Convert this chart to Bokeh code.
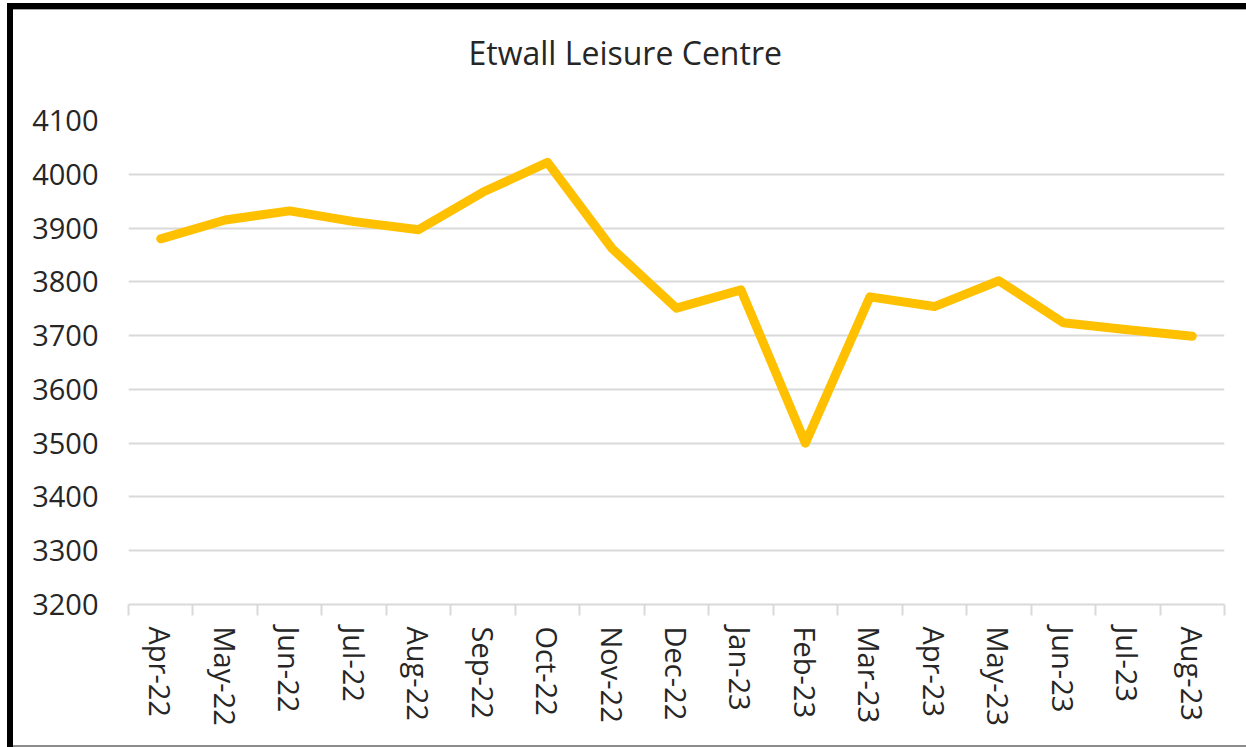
from bokeh.plotting import figure
from bokeh.models import ColumnDataSource, FixedTicker, Range1d, Title
from bokeh.embed import file_html
from bokeh.resources import INLINE

months = ["Apr-22", "May-22", "Jun-22", "Jul-22", "Aug-22", "Sep-22", "Oct-22",
          "Nov-22", "Dec-22", "Jan-23", "Feb-23", "Mar-23", "Apr-23", "May-23",
          "Jun-23", "Jul-23", "Aug-23"]
visits = [3880, 3915, 3932, 3912, 3897, 3967, 4022, 3862, 3751, 3785, 3500,
          3772, 3754, 3802, 3724, 3711, 3699]
y_ticks = [3200, 3300, 3400, 3500, 3600, 3700, 3800, 3900, 4000, 4100]
title_text = "Etwall Leisure Centre"

FONT = "Open Sans"
TXT = "#262626"
GRID = "#d9d9d9"

n = len(months)
idx = list(range(n))
src = ColumnDataSource(dict(x=idx, y=visits, m=months))

p = figure(width=1246, height=747, output_backend="svg", toolbar_location=None,
           x_range=Range1d(-0.5, n - 0.5), y_range=Range1d(y_ticks[0], y_ticks[-1]),
           min_border_left=128, min_border_right=22, min_border_top=120,
           min_border_bottom=143)

p.line("x", "y", source=src, line_color="#FFC000", line_width=9,
       line_cap="round", line_join="round")

# Spacer between the frame and the title, then the title itself
p.add_layout(Title(text=" ", text_font_size="1px", standoff=44), "above")
p.add_layout(Title(text=title_text, text_font=FONT, text_font_size="32px",
                   text_font_style="normal", text_color=TXT, align="left",
                   offset=340, standoff=0), "above")

# Frame / background
p.outline_line_color = None
p.background_fill_color = "white"
p.border_fill_color = None
p.styles = {"box-shadow": ("inset 7px 3px 0 0 #ffffff, inset 13px 9px 0 0 #000000, "
                           "inset 0 10px 0 0 #a6a6a6, inset 0 -2px 0 0 #8c8c8c")}

# Y axis
p.yaxis.ticker = FixedTicker(ticks=y_ticks)
p.yaxis.axis_line_color = None
p.yaxis.major_tick_line_color = None
p.yaxis.minor_tick_line_color = None
p.yaxis.major_tick_out = 0
p.yaxis.major_tick_in = 0
p.yaxis.major_label_standoff = 30
p.yaxis.major_label_text_font = FONT
p.yaxis.major_label_text_font_size = "29px"
p.yaxis.major_label_text_color = TXT

# X axis: labels at centres, ticks at category boundaries
p.xaxis.ticker = FixedTicker(ticks=idx, minor_ticks=[i - 0.5 for i in range(n + 1)])
p.xaxis.major_label_overrides = {i: m for i, m in enumerate(months)}
p.xaxis.major_label_orientation = "vertical"
p.xaxis.major_tick_line_color = None
p.xaxis.major_tick_out = 0
p.xaxis.major_tick_in = 0
p.xaxis.minor_tick_line_color = GRID
p.xaxis.minor_tick_line_width = 2
p.xaxis.minor_tick_out = 11
p.xaxis.minor_tick_in = 0
p.xaxis.axis_line_color = GRID
p.xaxis.axis_line_width = 2
p.xaxis.major_label_standoff = 11
p.xaxis.major_label_text_font = FONT
p.xaxis.major_label_text_font_size = "29px"
p.xaxis.major_label_text_color = TXT

# Grid
p.xgrid.grid_line_color = None
p.ygrid.grid_line_color = GRID
p.ygrid.grid_line_width = 2

open("out.html", "w").write(file_html(p, INLINE))
